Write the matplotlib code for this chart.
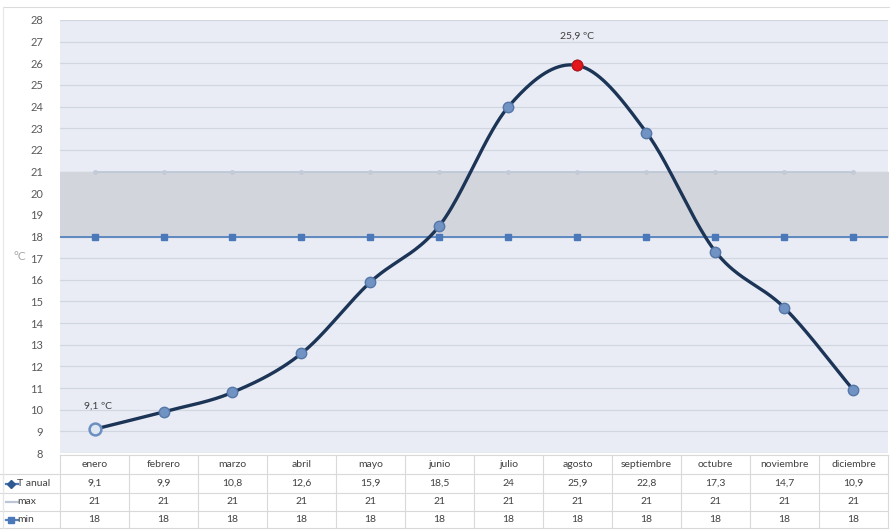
import numpy as np
import matplotlib
matplotlib.use("Agg")
import matplotlib.pyplot as plt
from matplotlib.lines import Line2D

plt.rcParams['font.family'] = ['Lato', 'DejaVu Sans']

meses = ["enero", "febrero", "marzo", "abril", "mayo", "junio", "julio",
         "agosto", "septiembre", "octubre", "noviembre", "diciembre"]
t_anual = [9.1, 9.9, 10.8, 12.6, 15.9, 18.5, 24, 25.9, 22.8, 17.3, 14.7, 10.9]
t_max = [21] * 12
t_min = [18] * 12
y_ticks = list(range(8, 29))

W, H = 890, 530
fig = plt.figure(figsize=(W / 100, H / 100), dpi=100)
fig.patch.set_facecolor("white")

def fx(px):
    return px / W

def fy(py):
    return 1 - py / H

# plot area in pixel coordinates
left, right, top, bottom = 60, 888, 20, 453
ax = fig.add_axes([fx(left), fy(bottom), fx(right - left), (bottom - top) / H])
ax.set_facecolor("#e9ecf5")
n = len(meses)
x = np.arange(n)
ax.set_xlim(-0.5, n - 0.5)
ax.set_ylim(8, 28)
for s in ax.spines.values():
    s.set_visible(False)
ax.set_yticks(y_ticks)
ax.set_yticklabels([str(v) for v in y_ticks], fontsize=8, color="#595959")
ax.tick_params(axis="y", length=0, pad=12)
ax.set_xticks([])
for v in y_ticks:
    ax.axhline(v, color="#d1d6e1", lw=0.9, zorder=0)

# comfort band between min and max
ax.fill_between([-0.5, n - 0.5], t_min[0], t_max[0], color="#d3d5dc", zorder=1)

# max / min reference series
ax.plot(x, t_max, color="#bcc6d6", lw=1.2, marker="o", ms=2.5,
        mfc="#c3cad8", mec="#c3cad8", zorder=2)
ax.plot([-0.5, n - 0.5], [t_min[0], t_min[0]], color="#5582bf", lw=1.3, zorder=2)
ax.plot(x, t_min, ls="none", marker="s", ms=4.5, mfc="#4a78b8", mec="#4a78b8", zorder=3)

# smoothed curve through the monthly means (Catmull-Rom)
def smooth(xs, ys, steps=40):
    px = np.concatenate([[2 * xs[0] - xs[1]], xs, [2 * xs[-1] - xs[-2]]])
    py = np.concatenate([[2 * ys[0] - ys[1]], ys, [2 * ys[-1] - ys[-2]]])
    ox, oy = [], []
    for i in range(1, len(px) - 2):
        t = np.linspace(0, 1, steps, endpoint=False)
        for arr, out in ((px, ox), (py, oy)):
            p0, p1, p2, p3 = arr[i - 1], arr[i], arr[i + 1], arr[i + 2]
            out.extend(0.5 * ((2 * p1) + (-p0 + p2) * t +
                              (2 * p0 - 5 * p1 + 4 * p2 - p3) * t ** 2 +
                              (-p0 + 3 * p1 - 3 * p2 + p3) * t ** 3))
    ox.append(xs[-1]); oy.append(ys[-1])
    return np.array(ox), np.array(oy)

ta = np.array(t_anual, dtype=float)
sx, sy = smooth(x.astype(float), ta)
ax.plot(sx, sy, color="#1c3557", lw=2.4, zorder=4, solid_capstyle="round")
ax.plot(x[1:], ta[1:], ls="none", marker="o", ms=7.5, mfc="#7193c4",
        mec="#5577a8", mew=1, zorder=5)
ax.plot(x[0], ta[0], ls="none", marker="o", ms=8.5, mfc="#dfe7f3",
        mec="#6d8fc0", mew=1.8, zorder=5)
imax = int(np.argmax(ta))
ax.plot(x[imax], ta[imax], ls="none", marker="o", ms=7.5, mfc="#e3161b",
        mec="#c21015", mew=1, zorder=6)

def fmt(v):
    return (f"{v:g}").replace(".", ",")

ax.text(x[imax], ta[imax] + 1.35, f"{fmt(ta[imax])} ºC", ha="center",
        va="center", fontsize=7.5, color="#404040")
imin = int(np.argmin(ta))
ax.text(x[imin] + 0.05, ta[imin] + 1.05, f"{fmt(ta[imin])} ºC", ha="center",
        va="center", fontsize=7.5, color="#404040")

fig.text(fx(20), fy(256), "°C", fontsize=8.5, color="#a6a6a6", ha="center", va="center")

# data table below the plot
col_w = (right - left) / n
rows_y = [455, 474, 493, 511, 528]
line_c = "#d9d9d9"
for yy in rows_y:
    fig.add_artist(Line2D([fx(0 if yy != rows_y[0] else left), fx(right)],
                          [fy(yy), fy(yy)], color=line_c, lw=0.8))
for i in range(n + 1):
    xx = left + i * col_w
    fig.add_artist(Line2D([fx(xx), fx(xx)], [fy(rows_y[0]), fy(rows_y[-1])],
                          color=line_c, lw=0.8))
fig.add_artist(Line2D([fx(3), fx(3)], [fy(rows_y[1]), fy(rows_y[-1])], color=line_c, lw=0.8))

row_vals = [meses, [fmt(v) for v in t_anual], [str(v) for v in t_max], [str(v) for v in t_min]]
for r, vals in enumerate(row_vals):
    cy = (rows_y[r] + rows_y[r + 1]) / 2
    for i, s in enumerate(vals):
        cx = left + (i + 0.5) * col_w
        fig.text(fx(cx), fy(cy), s, ha="center", va="center", fontsize=7.5, color="#404040")

# row headers with series keys
hdr = [("T anual", "#4a78b8", "D", "#2e5a94"), ("max", "#bcc6d6", None, None),
       ("min", "#5582bf", "s", "#4a78b8")]
for k, (name, lc, mk, mc) in enumerate(hdr):
    cy = (rows_y[k + 1] + rows_y[k + 2]) / 2
    fig.add_artist(Line2D([fx(6), fx(18)], [fy(cy), fy(cy)], color=lc, lw=1.6))
    if mk:
        fig.add_artist(Line2D([fx(11)], [fy(cy)], marker=mk, ms=4.5, mfc=mc, mec=mc, ls="none"))
    fig.text(fx(17), fy(cy), name, ha="left", va="center", fontsize=7.5, color="#404040")

# chart frame top edge
fig.add_artist(Line2D([fx(3), fx(W)], [fy(7), fy(7)], color="#dcdcdc", lw=0.8))
fig.add_artist(Line2D([fx(3), fx(3)], [fy(7), fy(rows_y[-1])], color="#e6e6e6", lw=0.8))

fig.savefig("out.png", dpi=100, facecolor="white")
